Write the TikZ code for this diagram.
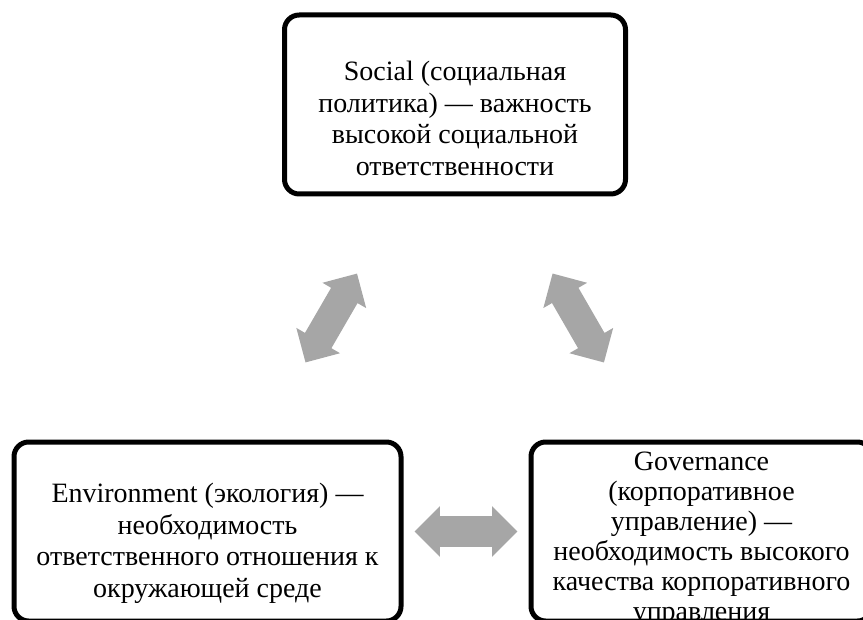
\documentclass[tikz,border=0pt]{standalone}
\usepackage{fontspec}
\setmainfont{Liberation Serif}
\usetikzlibrary{shapes.arrows}

\definecolor{arrowgray}{HTML}{A6A6A6}

\begin{document}
\begin{tikzpicture}[
    x=0.75pt, y=-0.75pt,
    esgbox/.style={draw=black, line width=3.75pt, rounded corners=11pt,
        minimum height=134.25pt},
    esgtext/.style={align=center, inner sep=0pt,
        font=\fontsize{21}{23.7}\selectfont},
    dblarrow/.style={double arrow, fill=arrowgray, draw=none,
        minimum height=77pt, inner sep=11.25pt,
        double arrow head extend=7.5pt},
]

\useasboundingbox (0, 0) rectangle (863, 620);

% --- ESG boxes ---
\node[esgbox, minimum width=255.75pt] (soc) at (455, 104.5) {};
\node[esgbox, minimum width=290.25pt] (env) at (207.5, 531.5) {};
\node[esgbox, minimum width=255.75pt] (gov) at (701.5, 531.5) {};

% --- Box texts ---
\node[esgtext] (soctext) at ([yshift=-10.5pt]soc.center)
    {Social (социальная\\политика) — важность\\высокой социальной\\ответственности};
\node[esgtext] (envtext) at ([yshift=-9pt]env.center)
    {Environment (экология) —\\необходимость\\ответственного отношения к\\окружающей среде};
\node[esgtext, font=\fontsize{21}{22.5}\selectfont] (govtext) at ([yshift=-5.5pt]gov.center)
    {Governance\\(корпоративное\\управление) —\\необходимость высокого\\качества корпоративного\\управления};

% --- Links ---
\path (env.center) -- (soc.center) node[dblarrow, midway, sloped] (a1) {};
\path (soc.center) -- (gov.center) node[dblarrow, midway, sloped] (a2) {};
\path (env.east) -- (gov.west) node[dblarrow, midway, sloped] (a3) {};

\end{tikzpicture}
\end{document}
